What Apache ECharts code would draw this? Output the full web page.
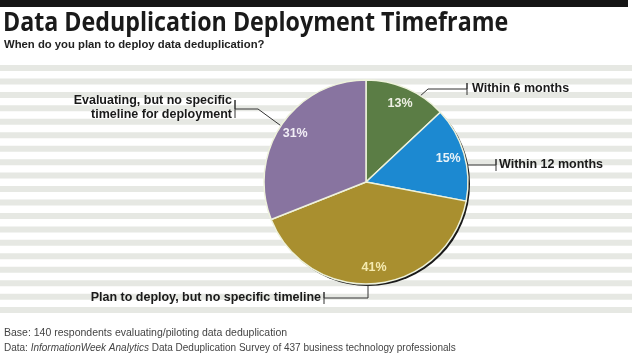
<!DOCTYPE html>
<html><head><meta charset="utf-8">
<script src="https://cdn.jsdelivr.net/npm/echarts@6/dist/echarts.min.js"></script>
<style>html,body{margin:0;padding:0;background:#fff}#c{width:640px;height:355px}</style>
</head><body><div id="c"></div>
<script>
// ---- data ----
const categories = ['Within 6 months', 'Within 12 months', 'Plan to deploy, but no specific timeline', 'Evaluating, but no specific\ntimeline for deployment'];
const values = [13, 15, 41, 31];
const percentLabels = ['13%', '15%', '41%', '31%'];
const titleText = 'Data Deduplication Deployment Timeframe';
const subtitleText = 'When do you plan to deploy data deduplication?';
const baseNote = 'Base: 140 respondents evaluating/piloting data deduplication';

// ---- style ----
const colors = ['#5b7d45', '#1c89d1', '#a98f2f', '#8874a0'];
const pctColors = ['#eef0e4', '#e8f2f8', '#f5eab0', '#f2eef6'];
const CX = 366, CY = 182, R = 102;
// leader line geometry relative to pie centre (style only)
const leaders = [
  {pts: [[53,-85],[62,-93],[101,-93]], tick: 6, text: [106,-93], align: 'left'},
  {pts: [[95,-17],[130,-17]], tick: 6, text: [133,-17], align: 'left'},
  {pts: [[2,99],[2,116],[-42,116]], tick: 6, text: [-45,116], align: 'right'},
  {pts: [[-82,-54],[-108,-73],[-131,-73]], tick: 9, text: [-134,-74], align: 'right'}
];

const stripes = [];
for (let i = 0; i < 19; i++) {
  stripes.push({type: 'rect', silent: true, z: -10,
    shape: {x: 0, y: 65 + i * 13.45, width: 632, height: 6},
    style: {fill: '#e6e8e3'}});
}

const chart = echarts.init(document.getElementById('c'), null, {renderer: 'canvas'});
const data = values.map((v, i) => ({name: categories[i], value: v, itemStyle: {color: colors[i]}}));
const labelFont = {fontWeight: 'bold', fontSize: 12.5, fontFamily: "'Liberation Sans', Arial, sans-serif"};

chart.setOption({
  animation: false,
  graphic: stripes.concat([
    {type: 'rect', shape: {x: 0, y: 0, width: 628, height: 7}, style: {fill: '#151515'}},
    {type: 'text', x: 3, y: 10, scaleX: 0.86, style: {text: titleText, font: "bold 27px 'Open Sans', sans-serif", fill: '#1a1a1a'}},
    {type: 'text', left: 4, top: 39, style: {text: subtitleText, font: "bold 11.3px 'Liberation Sans', Arial, sans-serif", fill: '#222'}},
    {type: 'text', left: 4, top: 328, style: {text: baseNote, font: "10.5px 'Liberation Sans', sans-serif", fill: '#444'}},
    {type: 'text', left: 4, top: 343, style: {
      text: '{n|Data: }{i|InformationWeek Analytics}{n| Data Deduplication Survey of 437 business technology professionals}',
      rich: {
        n: {fontSize: 10, fontFamily: "'Liberation Sans', sans-serif", fill: '#444', color: '#444'},
        i: {fontSize: 10, fontStyle: 'italic', fontFamily: "'Liberation Sans', sans-serif", fill: '#444', color: '#444'}
      }}}
  ]),
  series: [
    { // shadow disc
      type: 'pie', silent: true, center: [CX + 2, CY + 2], radius: R, z: 1,
      data: [{value: 1, itemStyle: {color: '#1a1a1a'}}],
      label: {show: false}, labelLine: {show: false}
    },
    {
      type: 'pie', center: [CX, CY], radius: R, startAngle: 90, clockwise: true, z: 2,
      data: data,
      itemStyle: {borderColor: '#eef2dc', borderWidth: 1.5},
      label: Object.assign({show: true, position: 'outside', color: '#1a1a1a', lineHeight: 14,
        width: 260, overflow: 'none'}, labelFont),
      labelLine: {show: true, lineStyle: {color: '#333', width: 1}},
      labelLayout: function (p) {
        const L = leaders[p.dataIndex];
        const pts = L.pts.map(q => [CX + q[0], CY + q[1]]);
        const end = pts[pts.length - 1];
        pts.push([end[0], end[1] - L.tick], [end[0], end[1] + L.tick]);
        return {x: CX + L.text[0], y: CY + L.text[1], align: L.align, verticalAlign: 'middle', labelLinePoints: pts};
      }
    },
    { // percentage labels ring
      type: 'pie', silent: true, center: [CX, CY], radius: [R * 0.62, R], startAngle: 90, clockwise: true, z: 3,
      data: values.map((v, i) => ({name: categories[i], value: v, itemStyle: {color: 'rgba(0,0,0,0)'},
        label: {color: pctColors[i]}})),
      label: {show: true, position: 'inside', formatter: p => percentLabels[p.dataIndex],
        fontWeight: 'bold', fontSize: 12.5, fontFamily: "'Liberation Sans', Arial, sans-serif"},
      labelLine: {show: false}
    }
  ]
});
</script></body></html>
